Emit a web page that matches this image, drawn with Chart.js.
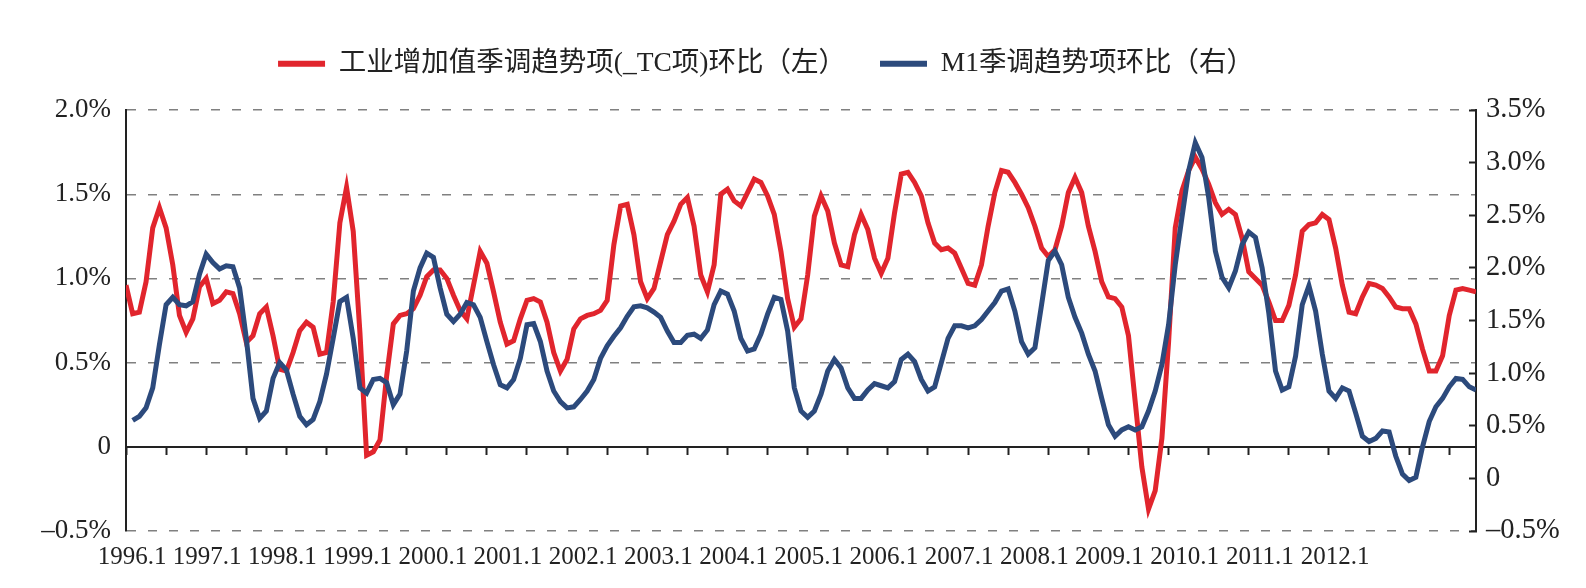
<!DOCTYPE html>
<html>
<head>
<meta charset="utf-8">
<script src="https://cdn.jsdelivr.net/npm/chart.js@4.4.1/dist/chart.umd.min.js"></script>
<style>
  html, body { margin: 0; background: #fff; }
  #wrap { width: 1586px; height: 588px; }
</style>
</head>
<body>
<div id="wrap"><canvas id="c"></canvas></div>
<script>
/* monthly, 1996.1 .. 2012.11 */
var industry = [
  0.96, 0.79, 0.80, 0.98, 1.30, 1.42, 1.30, 1.08, 0.78, 0.68, 0.76, 0.95,
  1.00, 0.85, 0.87, 0.92, 0.91, 0.79, 0.62, 0.66, 0.79, 0.83, 0.66, 0.46,
  0.45, 0.56, 0.69, 0.74, 0.71, 0.55, 0.56, 0.86, 1.33, 1.54, 1.28, 0.68,
  -0.05, -0.03, 0.04, 0.42, 0.73, 0.78, 0.79, 0.82, 0.90, 1.01, 1.05, 1.05,
  1.00, 0.90, 0.81, 0.76, 0.96, 1.16, 1.09, 0.92, 0.74, 0.61, 0.63, 0.76,
  0.87, 0.88, 0.86, 0.74, 0.56, 0.45, 0.52, 0.70, 0.76, 0.78, 0.79, 0.81,
  0.87, 1.20, 1.43, 1.44, 1.26, 0.98, 0.88, 0.94, 1.10, 1.26, 1.34, 1.44,
  1.48, 1.31, 1.02, 0.92, 1.08, 1.50, 1.53, 1.46, 1.43, 1.51, 1.59, 1.57,
  1.49, 1.38, 1.16, 0.88, 0.71, 0.76, 1.02, 1.37, 1.49, 1.40, 1.21, 1.08,
  1.07, 1.26, 1.38, 1.29, 1.12, 1.03, 1.12, 1.39, 1.62, 1.63, 1.57, 1.49,
  1.33, 1.21, 1.17, 1.18, 1.15, 1.06, 0.97, 0.96, 1.08, 1.31, 1.51, 1.64,
  1.63, 1.57, 1.50, 1.42, 1.31, 1.18, 1.13, 1.17, 1.31, 1.51, 1.60, 1.51,
  1.31, 1.16, 0.98, 0.89, 0.88, 0.83, 0.66, 0.27, -0.12, -0.37, -0.26, 0.05,
  0.62, 1.30, 1.52, 1.64, 1.72, 1.65, 1.56, 1.45, 1.38, 1.41, 1.38, 1.24,
  1.04, 1.00, 0.96, 0.86, 0.75, 0.75, 0.84, 1.02, 1.28, 1.32, 1.33, 1.38,
  1.35, 1.18, 0.96, 0.80, 0.79, 0.89, 0.97, 0.96, 0.94, 0.89, 0.83, 0.82,
  0.82, 0.73, 0.58, 0.45, 0.45, 0.54, 0.78, 0.93, 0.94, 0.93, 0.92
];

var m1 = [
  null, 0.55, 0.59, 0.67, 0.86, 1.27, 1.65, 1.72, 1.65, 1.64, 1.68, 1.94,
  2.13, 2.05, 1.99, 2.02, 2.01, 1.81, 1.33, 0.76, 0.57, 0.64, 0.95, 1.10,
  1.03, 0.80, 0.59, 0.51, 0.56, 0.73, 0.99, 1.33, 1.68, 1.72, 1.33, 0.86,
  0.81, 0.94, 0.95, 0.91, 0.70, 0.80, 1.21, 1.78, 2.00, 2.14, 2.10, 1.81,
  1.56, 1.49, 1.56, 1.67, 1.65, 1.53, 1.30, 1.08, 0.89, 0.86, 0.94, 1.14,
  1.46, 1.47, 1.30, 1.02, 0.83, 0.73, 0.67, 0.68, 0.75, 0.83, 0.94, 1.14,
  1.26, 1.35, 1.43, 1.54, 1.63, 1.64, 1.62, 1.58, 1.53, 1.40, 1.29, 1.29,
  1.36, 1.37, 1.33, 1.41, 1.65, 1.78, 1.75, 1.59, 1.33, 1.21, 1.23, 1.37,
  1.56, 1.72, 1.70, 1.40, 0.86, 0.64, 0.58, 0.64, 0.80, 1.02, 1.13, 1.05,
  0.86, 0.76, 0.76, 0.84, 0.90, 0.88, 0.86, 0.92, 1.13, 1.18, 1.11, 0.94,
  0.83, 0.87, 1.10, 1.33, 1.45, 1.45, 1.43, 1.45, 1.51, 1.59, 1.67, 1.78,
  1.80, 1.59, 1.30, 1.18, 1.24, 1.65, 2.07, 2.16, 2.03, 1.72, 1.53, 1.38,
  1.18, 1.02, 0.76, 0.51, 0.40, 0.46, 0.49, 0.46, 0.49, 0.64, 0.83, 1.08,
  1.46, 2.03, 2.48, 2.92, 3.19, 3.05, 2.67, 2.16, 1.91, 1.81, 1.97, 2.22,
  2.34, 2.29, 2.00, 1.57, 1.02, 0.84, 0.87, 1.16, 1.65, 1.83, 1.59, 1.18,
  0.83, 0.76, 0.86, 0.83, 0.62, 0.40, 0.35, 0.38, 0.45, 0.44, 0.21, 0.04,
  -0.02, 0.01, 0.30, 0.54, 0.68, 0.76, 0.87, 0.95, 0.94, 0.87, 0.84
];

var yearLabels = [
  "1996.1", "1997.1", "1998.1", "1999.1", "2000.1", "2001.1", "2002.1", "2003.1", "2004.1",
  "2005.1", "2006.1", "2007.1", "2008.1", "2009.1", "2010.1", "2011.1", "2012.1"
];
var leftTicks = [-0.5, 0, 0.5, 1.0, 1.5, 2.0];
var rightTicks = [-0.5, 0, 0.5, 1.0, 1.5, 2.0, 2.5, 3.0, 3.5];

var seriesNames = ["工业增加值季调趋势项(_TC项)环比（左）", "M1季调趋势项环比（右）"];
var RED = "#e1252d", BLUE = "#2c4a7c", INK = "#222222", GRID = "#808080";
var SERIF = '"Liberation Serif", "Times New Roman", "Noto Sans CJK SC", serif';

var lastIdx = industry.length - 1;
// the year row in the original is spaced a little tighter than the month ticks
var labelAxisMin = -0.08, labelAxisMax = 17.875;

function pts(arr) {
  return arr.map(function (v, i) { return { x: i, y: v }; });
}
function pct(v) {
  if (Math.abs(v) < 1e-9) return "0";
  return (v < 0 ? "\u2013" : "") + Math.abs(v).toFixed(1) + "%";
}
function fixedTicks(list) {
  return function (s) { s.ticks = list.map(function (v) { return { value: v }; }); };
}

var yearIdx = yearLabels.map(function (_, k) { return k; });
var halfYearVals = [];
for (var t = 0; t <= lastIdx - 1; t += 6) halfYearVals.push(t);

new Chart(document.getElementById("c"), {
  type: "line",
  data: {
    datasets: [
      {
        label: seriesNames[0], data: pts(industry), xAxisID: "xz", yAxisID: "y", order: 1,
        borderColor: RED, backgroundColor: RED, borderWidth: 5,
        pointRadius: 0, tension: 0
      },
      {
        label: seriesNames[1], data: pts(m1), xAxisID: "xz", yAxisID: "y2", order: 0,
        borderColor: BLUE, backgroundColor: BLUE, borderWidth: 5,
        pointRadius: 0, tension: 0
      }
    ]
  },
  options: {
    responsive: true,
    maintainAspectRatio: false,
    devicePixelRatio: 1,
    animation: false,
    layout: { padding: { top: 16, right: 27, bottom: 0, left: -27 } },
    plugins: {
      tooltip: { enabled: false },
      legend: {
        position: "top",
        weight: 3000,
        labels: {
          color: INK,
          font: { family: SERIF, size: 27.5 },
          boxWidth: 47,
          boxHeight: 6,
          padding: 34,
          sort: function (a, b) { return a.datasetIndex - b.datasetIndex; },
          generateLabels: function (chart) {
            return Chart.defaults.plugins.legend.labels.generateLabels(chart).map(function (l) {
              l.lineWidth = 0;
              return l;
            });
          }
        }
      },
      // blank spacer between legend and plot
      title: { display: true, text: "", font: { size: 1, lineHeight: 1 }, padding: { top: 0, bottom: 21.5 } }
    },
    scales: {
      x: {
        type: "linear", position: "bottom", min: labelAxisMin, max: labelAxisMax, bounds: "data",
        grid: { display: false, drawTicks: false },
        border: { display: false },
        afterBuildTicks: fixedTicks(yearIdx),
        afterFit: function (s) { s.height = 57; },
        ticks: {
          autoSkip: false, maxRotation: 0, padding: 11,
          color: INK, font: { family: SERIF, size: 25 },
          callback: function (v, i) { return yearLabels[i]; }
        }
      },
      xz: {
        type: "linear", axis: "x", position: { y: 0 }, min: 0, max: lastIdx, bounds: "data",
        grid: { drawOnChartArea: false, drawTicks: true, tickLength: 7, tickColor: INK, tickWidth: 2 },
        border: { color: INK, width: 2 },
        ticks: { display: false },
        afterBuildTicks: fixedTicks(halfYearVals),
        afterFit: function (s) { s.height = 0; }
      },
      y: {
        position: "left", min: -0.5, max: 2.0,
        afterBuildTicks: fixedTicks(leftTicks),
        afterFit: function (s) { s.width = 153; },
        grid: {
          drawTicks: false, lineWidth: 1.4,
          color: function (c) { return c.tick && c.tick.value === 0 ? "rgba(0,0,0,0)" : GRID; }
        },
        border: { color: INK, width: 2, dash: [9, 12] },
        ticks: { padding: 15, color: INK, font: { family: SERIF, size: 27 }, callback: pct }
      },
      y2: {
        position: "right", min: -0.5, max: 3.5,
        afterBuildTicks: fixedTicks(rightTicks),
        afterFit: function (s) { s.width = 83; },
        grid: { drawOnChartArea: false, drawTicks: true, tickLength: -7, tickColor: INK, tickWidth: 2 },
        border: { color: INK, width: 2 },
        ticks: { padding: 17, color: INK, font: { family: SERIF, size: 28.5 }, callback: pct }
      }
    }
  }
});
</script>
</body>
</html>
